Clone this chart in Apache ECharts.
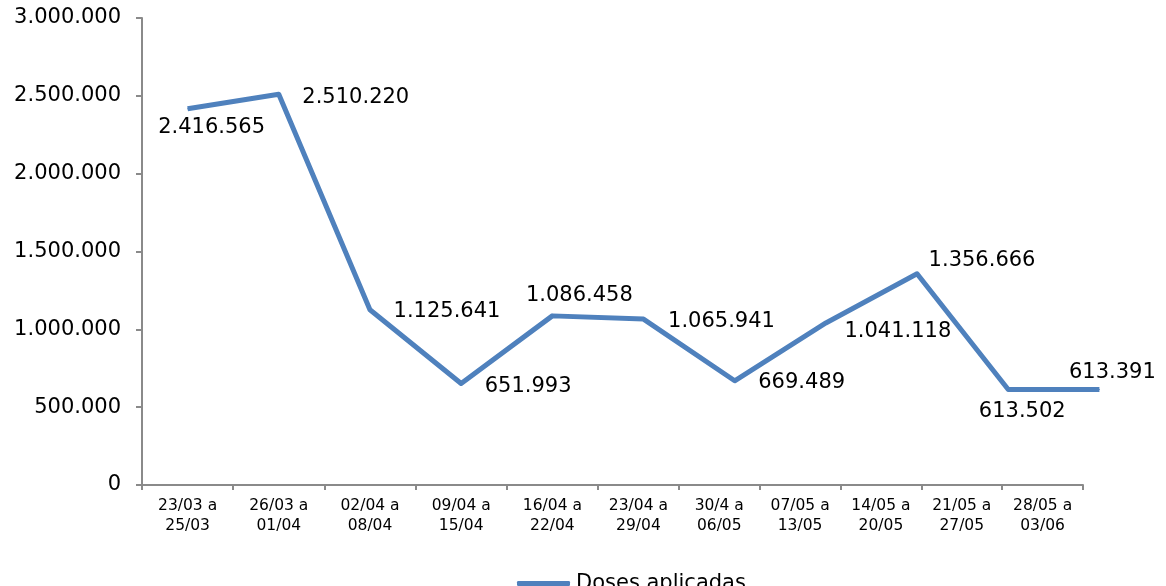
<!DOCTYPE html>
<html>
<head>
<meta charset="utf-8">
<script src="https://cdn.jsdelivr.net/npm/echarts@6/dist/echarts.min.js"></script>
<style>
html,body{margin:0;padding:0;background:#fff;}
#chart{width:1166px;height:586px;}
</style>
</head>
<body>
<div id="chart"></div>
<script>
var categories = ['23/03 a\n25/03','26/03 a\n01/04','02/04 a\n08/04','09/04 a\n15/04','16/04 a\n22/04',
                  '23/04 a\n29/04','30/4 a\n06/05','07/05 a\n13/05','14/05 a\n20/05','21/05 a\n27/05','28/05 a\n03/06'];
var doses = [2416565, 2510220, 1125641, 651993, 1086458, 1065941, 669489, 1041118, 1356666, 613502, 613391];
var seriesName = 'Doses aplicadas';
var yTicks = {min: 0, max: 3000000, interval: 500000};

// label offsets (style only): [dx, dy] from point to label centre
var labelOffsets = [[24,19],[77,3],[77,2],[67,3],[27,-20],[78,2],[67,2],[72,9],[65,-13],[14,22],[13,-17]];

function fmt(n){ return String(n).replace(/\B(?=(\d{3})+(?!\d))/g, '.'); }

var FONT = 'DejaVu Sans';
var AXIS = '#8a8a8a';
var chart = echarts.init(document.getElementById('chart'));

var xLabelStyle = {show:true, fontFamily:FONT, fontSize:15.5, lineHeight:20, color:'#000', margin:11, interval:0};
function visAxis(gi, cats){
  return {type:'category', gridIndex:gi, data:cats, boundaryGap:true,
    axisLine:{show:true, lineStyle:{color:AXIS, width:2}},
    axisTick:{show:true, length:5, lineStyle:{color:AXIS, width:2}, alignWithLabel:false},
    axisLabel:xLabelStyle, splitLine:{show:false}};
}
function hiddenY(gi){
  return {type:'value', gridIndex:gi, min:yTicks.min, max:yTicks.max, interval:yTicks.interval, show:false, splitLine:{show:false}};
}

chart.setOption({
  animation:false,
  backgroundColor:'#fff',
  grid:[
    {left:142, top:18, width:1003, height:467},
    {left:142, top:18, width:456, height:467},
    {left:598, top:18, width:485, height:467}
  ],
  xAxis:[
    {type:'category', gridIndex:0, data:categories, boundaryGap:true, show:false},
    visAxis(1, categories.slice(0,5)),
    visAxis(2, categories.slice(5))
  ],
  yAxis:[
    {type:'value', gridIndex:0, min:yTicks.min, max:yTicks.max, interval:yTicks.interval,
     axisLine:{show:true, lineStyle:{color:AXIS, width:2}},
     axisTick:{show:true, length:6, lineStyle:{color:AXIS, width:2}},
     splitLine:{show:false},
     axisLabel:{fontFamily:FONT, fontSize:21, color:'#000', margin:21, formatter:function(v){return fmt(v);}}},
    hiddenY(1), hiddenY(2)
  ],
  legend:{
    show:true, left:517, top:573, padding:0, itemWidth:53, itemHeight:5, itemGap:10,
    textStyle:{fontFamily:FONT, fontSize:21, color:'#000', padding:[0,0,0,1]},
    data:[{name:seriesName, icon:'roundRect', itemStyle:{color:'#4F81BD'}}]
  },
  series:[{
    name:seriesName, type:'line', xAxisIndex:0, yAxisIndex:0,
    data:doses.map(function(v,i){
      return {value:v, label:{offset:labelOffsets[i]}};
    }),
    symbol:'circle', symbolSize:1, showSymbol:true,
    lineStyle:{color:'#4F81BD', width:5, join:'round'},
    itemStyle:{color:'#4F81BD'},
    label:{show:true, position:'inside', align:'center', verticalAlign:'middle',
      fontFamily:FONT, fontSize:21, color:'#000',
      formatter:function(p){return fmt(p.value);}}
  }]
});
</script>
</body>
</html>
